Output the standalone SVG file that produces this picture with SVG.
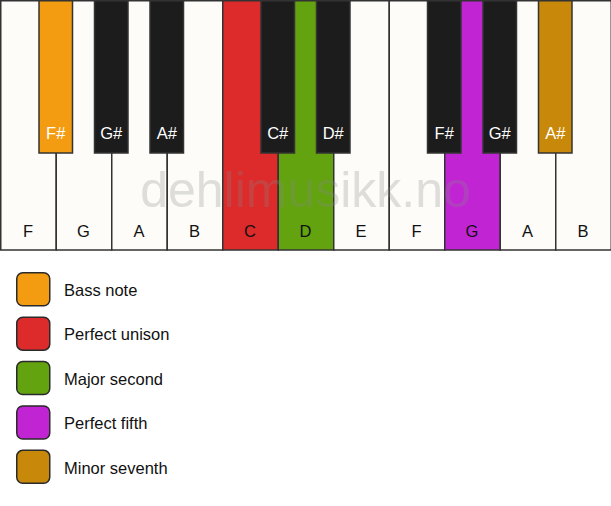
<svg xmlns="http://www.w3.org/2000/svg" width="611" height="506" viewBox="0 0 611 506">
<style>
.w{fill:#fdfcf8;stroke:#333;stroke-width:1.5}
.b{fill:#1c1c1c;stroke:#333;stroke-width:1.5}
.wl{font-family:"Liberation Sans",Arial,sans-serif;font-size:16.5px;fill:#111;text-anchor:middle}
.bl{font-family:"Liberation Sans",Arial,sans-serif;font-size:16.5px;fill:#fff;text-anchor:middle}
.lg{stroke:#2a2a2a;stroke-width:1.5}
.lt{font-family:"Liberation Sans",Arial,sans-serif;font-size:16.5px;fill:#111}
.orange{fill:#f39c12}.red{fill:#dd2a2a}.green{fill:#62a30f}.purple{fill:#c125d3}.gold{fill:#c8880a}
</style>
<rect width="611" height="506" fill="#fff"/>
<g id="white-keys">
<g id="key-F1"><rect class="w" x="0.75" y="0.75" width="55.5" height="249.25"/><text class="wl" x="28" y="237">F</text></g>
<g id="key-G1"><rect class="w" x="56.25" y="0.75" width="55.5" height="249.25"/><text class="wl" x="83.5" y="237">G</text></g>
<g id="key-A1"><rect class="w" x="111.75" y="0.75" width="55.5" height="249.25"/><text class="wl" x="139" y="237">A</text></g>
<g id="key-B1"><rect class="w" x="167.25" y="0.75" width="55.5" height="249.25"/><text class="wl" x="194.5" y="237">B</text></g>
<g id="key-C"><rect class="w red" x="222.75" y="0.75" width="55.5" height="249.25"/><text class="wl" x="250" y="237">C</text></g>
<g id="key-D"><rect class="w green" x="278.25" y="0.75" width="55.5" height="249.25"/><text class="wl" x="305.5" y="237">D</text></g>
<g id="key-E"><rect class="w" x="333.75" y="0.75" width="55.5" height="249.25"/><text class="wl" x="361" y="237">E</text></g>
<g id="key-F2"><rect class="w" x="389.25" y="0.75" width="55.5" height="249.25"/><text class="wl" x="416.5" y="237">F</text></g>
<g id="key-G2"><rect class="w purple" x="444.75" y="0.75" width="55.5" height="249.25"/><text class="wl" x="472" y="237">G</text></g>
<g id="key-A2"><rect class="w" x="500.25" y="0.75" width="55.5" height="249.25"/><text class="wl" x="527.5" y="237">A</text></g>
<g id="key-B2"><rect class="w" x="555.75" y="0.75" width="55.5" height="249.25"/><text class="wl" x="583" y="237">B</text></g>
</g>
<g id="black-keys">
<g id="key-Fs1"><rect class="b orange" x="39" y="0.75" width="33.5" height="152.25"/><text class="bl" x="55.75" y="139">F#</text></g>
<g id="key-Gs1"><rect class="b" x="94.5" y="0.75" width="33.5" height="152.25"/><text class="bl" x="111.25" y="139">G#</text></g>
<g id="key-As1"><rect class="b" x="150" y="0.75" width="33.5" height="152.25"/><text class="bl" x="166.75" y="139">A#</text></g>
<g id="key-Cs"><rect class="b" x="261" y="0.75" width="33.5" height="152.25"/><text class="bl" x="277.75" y="139">C#</text></g>
<g id="key-Ds"><rect class="b" x="316.5" y="0.75" width="33.5" height="152.25"/><text class="bl" x="333.25" y="139">D#</text></g>
<g id="key-Fs2"><rect class="b" x="427.5" y="0.75" width="33.5" height="152.25"/><text class="bl" x="444.25" y="139">F#</text></g>
<g id="key-Gs2"><rect class="b" x="483" y="0.75" width="33.5" height="152.25"/><text class="bl" x="499.75" y="139">G#</text></g>
<g id="key-As2"><rect class="b gold" x="538.5" y="0.75" width="33.5" height="152.25"/><text class="bl" x="555.25" y="139">A#</text></g>
</g>
<text id="watermark" x="305.5" y="207" font-family="'Liberation Sans',Arial,sans-serif" font-size="50" fill="#888" fill-opacity="0.27" text-anchor="middle">dehlimusikk.no</text>
<g id="legend">
<g id="legend-bass"><rect class="lg orange" x="16.75" y="272.75" width="33" height="33" rx="6"/><text class="lt" x="64" y="296">Bass note</text></g>
<g id="legend-unison"><rect class="lg red" x="16.75" y="317.15" width="33" height="33" rx="6"/><text class="lt" x="64" y="340.4">Perfect unison</text></g>
<g id="legend-second"><rect class="lg green" x="16.75" y="361.55" width="33" height="33" rx="6"/><text class="lt" x="64" y="384.8">Major second</text></g>
<g id="legend-fifth"><rect class="lg purple" x="16.75" y="405.95" width="33" height="33" rx="6"/><text class="lt" x="64" y="429.2">Perfect fifth</text></g>
<g id="legend-seventh"><rect class="lg gold" x="16.75" y="450.35" width="33" height="33" rx="6"/><text class="lt" x="64" y="473.6">Minor seventh</text></g>
</g>
</svg>
